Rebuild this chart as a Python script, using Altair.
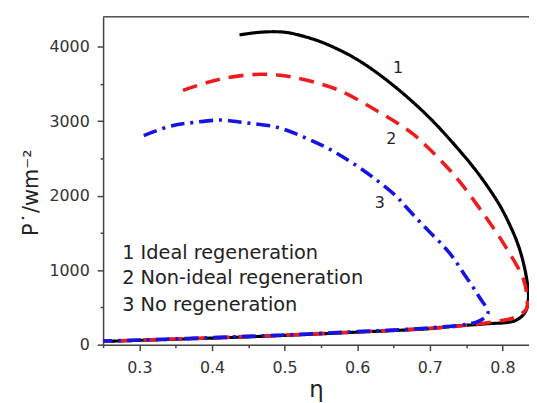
import altair as alt
import pandas as pd

# Curve 1: ideal regeneration (black, solid)
eta1 = [0.4379, 0.460, 0.4833, 0.501, 0.5174, 0.5488, 0.5856, 0.6129, 0.6538, 0.6993, 0.7448, 0.7675,
        0.7811, 0.7994, 0.8220, 0.8335, 0.8357, 0.8312, 0.8175, 0.7766, 0.7357, 0.70, 0.60, 0.50, 0.40,
        0.30, 0.25]
P1 = [4157, 4187, 4200, 4192, 4161, 4068, 3905, 3746, 3447, 3048, 2561, 2286,
      2100, 1816, 1329, 877, 611, 435, 323, 279, 250, 215, 168, 124, 88,
      58, 44]

# Curve 2: non-ideal regeneration (red, dashed)
eta2 = [0.360, 0.392, 0.42, 0.458, 0.49, 0.511, 0.572, 0.631, 0.674, 0.697, 0.722, 0.7425, 0.7766,
        0.804, 0.829, 0.8335, 0.8330, 0.8175, 0.799, 0.75, 0.70, 0.60, 0.50, 0.40, 0.30, 0.25]
P2 = [3413, 3514, 3580, 3626, 3620, 3590, 3426, 3116, 2849, 2649, 2400, 2170, 1719,
      1320, 877, 655, 480, 368, 323, 260, 220, 172, 128, 92, 60, 46]

# Curve 3: no regeneration (blue, dash-dot)
eta3 = [0.306, 0.345, 0.376, 0.413, 0.442, 0.490, 0.527, 0.561, 0.595, 0.627, 0.654, 0.667, 0.690,
        0.727, 0.749, 0.767, 0.780, 0.766, 0.70, 0.60, 0.50, 0.40, 0.30, 0.25]
P3 = [2806, 2939, 2983, 3014, 2983, 2916, 2783, 2628, 2429, 2207, 1990, 1850, 1610,
      1232, 922, 656, 420, 310, 225, 175, 130, 94, 62, 48]

legend_texts = ["1 Ideal regeneration", "2 Non-ideal regeneration", "3 No regeneration"]
legend_eta = [0.2763, 0.2763, 0.2763]
legend_P = [1143, 811, 456]

num_texts = ["1", "2", "3"]
num_eta = [0.6561, 0.6470, 0.6310]
num_P = [3713, 2761, 1897]

x_ticks = [round(0.25 + 0.05 * i, 2) for i in range(12)]
y_ticks = list(range(0, 4401, 500))

W, H = 430, 331
FONT = "DejaVu Sans"
AX_COLOR = "#444444"

xscale = alt.Scale(domain=[0.25, 0.8366], nice=False, zero=False)
yscale = alt.Scale(domain=[0, 4400], nice=False)

x_minor_test = "abs(datum.value*10 - round(datum.value*10)) > 0.01"
xaxis = alt.Axis(
    title="η", values=x_ticks,
    labelExpr=f"{x_minor_test} ? '' : format(datum.value, '.1f')",
    tickSize={"condition": {"test": x_minor_test, "value": 3}, "value": 6},
    grid=False, domainColor=AX_COLOR, domainWidth=1.5, tickColor=AX_COLOR, tickWidth=1.5,
    labelFont=FONT, labelFontSize=16, labelColor="#333333", labelPadding=9,
    titleFont=FONT, titleFontSize=23, titleFontWeight="normal", titleColor="#222222", titlePadding=3,
)
yaxis = alt.Axis(
    title="P˙/wm⁻²", values=y_ticks,
    labelExpr="datum.value % 1000 == 0 ? format(datum.value, 'd') : ''",
    tickSize={"condition": {"test": "datum.value % 1000 != 0", "value": 3}, "value": 6},
    grid=False, domainColor=AX_COLOR, domainWidth=1.5, tickColor=AX_COLOR, tickWidth=1.5,
    labelFont=FONT, labelFontSize=16, labelColor="#333333", labelPadding=8,
    titleFont=FONT, titleFontSize=21, titleFontWeight="normal", titleColor="#222222",
    titlePadding=7, titleY=177,
)


def curve(eta, P, color, dash, width):
    df = pd.DataFrame({"eta": eta, "P": P, "idx": list(range(len(eta)))})
    return alt.Chart(df).mark_line(
        clip=True, color=color, strokeWidth=width, strokeDash=dash, strokeCap="butt",
        strokeJoin="round", interpolate="catmull-rom"
    ).encode(
        x=alt.X("eta:Q", scale=xscale, axis=xaxis),
        y=alt.Y("P:Q", scale=yscale, axis=yaxis),
        order="idx:Q",
    )


c1 = curve(eta1, P1, "#000000", [1, 0], 3.2)
c2 = curve(eta2, P2, "#ee1c1c", [15, 9], 3.6)
c3 = curve(eta3, P3, "#1414e6", [14, 6, 3, 6], 3.6)

leg_df = pd.DataFrame({"eta": legend_eta, "P": legend_P, "t": legend_texts})
legend = alt.Chart(leg_df).mark_text(
    align="left", baseline="alphabetic", font=FONT, fontSize=19.5, color="#222222"
).encode(
    x=alt.X("eta:Q", scale=xscale, axis=xaxis),
    y=alt.Y("P:Q", scale=yscale, axis=yaxis),
    text="t:N",
)

num_df = pd.DataFrame({"eta": num_eta, "P": num_P, "t": num_texts})
nums = alt.Chart(num_df).mark_text(
    align="center", baseline="middle", font=FONT, fontSize=16, color="#222222"
).encode(
    x=alt.X("eta:Q", scale=xscale, axis=xaxis),
    y=alt.Y("P:Q", scale=yscale, axis=yaxis),
    text="t:N",
)

top = alt.Chart(pd.DataFrame({"a": [0]})).mark_rule(color="#555555", strokeWidth=1.5).encode(
    x=alt.value(0), x2=alt.value(W), y=alt.value(0)
)

chart = alt.layer(c1, c2, c3, legend, nums, top).properties(
    width=W, height=H,
    autosize=alt.AutoSizeParams(type="none"),
    padding={"left": 96, "top": 7, "right": 0, "bottom": 56},
).configure_view(stroke=None).configure(background="white")

chart.save("out.html", embed_options={"renderer": "svg", "actions": False})
